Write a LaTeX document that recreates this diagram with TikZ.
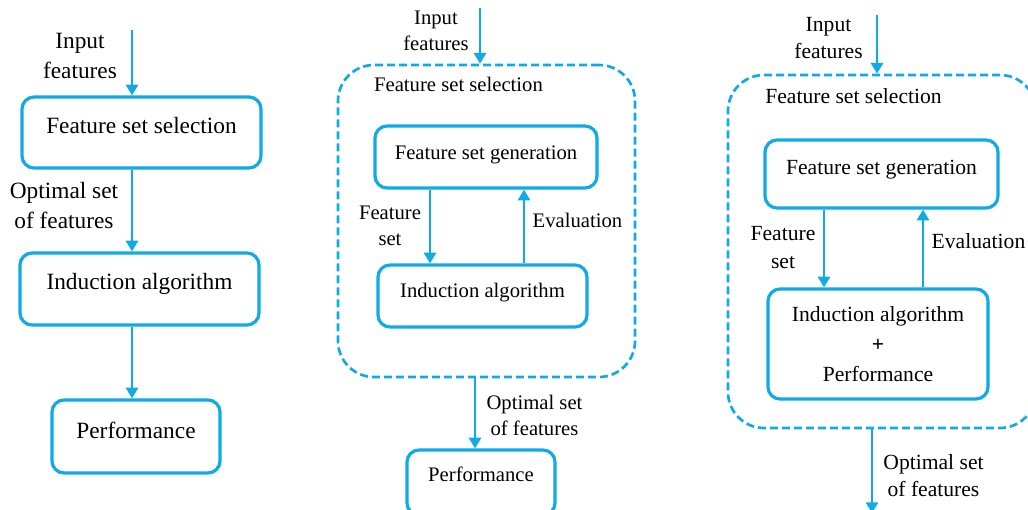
\documentclass[tikz,border=0pt]{standalone}
\usepackage{fontspec}
\setmainfont{Liberation Serif}
\usetikzlibrary{arrows.meta}
\definecolor{flowblue}{RGB}{16,170,230}

\begin{document}
\begin{tikzpicture}[x=0.75pt,y=-0.75pt,
  wh/.style 2 args={minimum width=#1*0.75pt, minimum height=#2*0.75pt},
  box/.style={draw=flowblue, line width=2.4pt, rounded corners=9pt, inner sep=0pt, align=center},
  group/.style={draw=flowblue, line width=2pt, dash pattern=on 6pt off 3pt, rounded corners=27pt, inner sep=0pt},
  flow/.style={draw=flowblue, line width=2pt, -{Triangle[length=8pt,width=9pt]}},
  lab/.style={inner sep=0pt, align=center},
  fA/.style={font=\fontsize{17.5}{22.5}\selectfont},
  fB/.style={font=\fontsize{15.5}{19.5}\selectfont},
  fC/.style={font=\fontsize{16.2}{20.3}\selectfont},
]
\useasboundingbox (0,0) rectangle (1028,510);
\clip (0,0) rectangle (1028,510);

% ---------- left: filter approach ----------
\coordinate (in1) at (132,30);
\node[lab,fA] (inlab1) at (80,56) {Input\\features};
\node[box,fA,wh={239}{71},text height=12.25pt,text depth=11.2pt] (sel1) at (141.5,132.5) {Feature set selection};
\node[box,fA,wh={239}{72},text height=12.25pt,text depth=12pt] (ind1) at (139.5,289) {Induction algorithm};
\node[box,fA,wh={168}{73},text height=12.25pt,text depth=10pt] (perf1) at (136,436.5) {Performance};
\node[lab,fA] (optlab1) at (64,206) {Optimal set\\of features};
\draw[flow] (in1) -- (in1 |- sel1.north);
\draw[flow] (sel1.south -| in1) -- (ind1.north -| in1);
\draw[flow] (ind1.south -| in1) -- (perf1.north -| in1);

% ---------- middle: wrapper approach ----------
\coordinate (in2) at (480,8);
\coordinate (fs2) at (430,0);
\coordinate (ev2) at (524,0);
\coordinate (out2) at (475,0);
\node[lab,fB] (inlab2) at (436,31) {Input\\features};
\node[group,wh={297}{312}] (sel2) at (486.5,221) {};
\node[lab,fB] (sellab2) at (458.5,84) {Feature set selection};
\node[box,fB,wh={222}{62},text height=10.85pt,text depth=7.5pt] (gen2) at (486,157) {Feature set generation};
\node[box,fB,wh={209}{62},text height=10.85pt,text depth=9pt] (ind2) at (482.5,296) {Induction algorithm};
\node[box,fB,wh={148}{65},text height=10.85pt,text depth=12.8pt] (perf2) at (481,482.5) {Performance};
\node[lab,fB] (fslab2) at (390,226) {Feature\\set};
\node[lab,fB] (evlab2) at (577.5,220) {Evaluation};
\node[lab,fB] (optlab2) at (534.5,415) {Optimal set\\of features};
\draw[flow] (in2) -- (in2 |- sel2.north);
\draw[flow] (gen2.south -| fs2) -- (ind2.north -| fs2);
\draw[flow] (ind2.north -| ev2) -- (gen2.south -| ev2);
\draw[flow] (sel2.south -| out2) -- (perf2.north -| out2);

% ---------- right: embedded approach ----------
\coordinate (in3) at (877,15);
\coordinate (fs3) at (824,0);
\coordinate (ev3) at (923,0);
\coordinate (end3) at (872,513);
\node[lab,fC] (inlab3) at (828.5,38.5) {Input\\features};
\node[group,wh={308}{353}] (sel3) at (882,251.5) {};
\node[lab,fC] (sellab3) at (853.5,96) {Feature set selection};
\node[box,fC,wh={233}{68},text height=11.3pt,text depth=10.5pt] (gen3) at (881.5,174) {Feature set generation};
\node[box,wh={220}{110},font=\fontsize{16.2}{22.5}\selectfont] (ind3) at (878,344) {Induction algorithm\\\textbf{+}\\Performance};
\node[lab,fC] (fslab3) at (783,247.5) {Feature\\set};
\node[lab,fC] (evlab3) at (978.5,241) {Evaluation};
\node[lab,fC] (optlab3) at (933.5,475.5) {Optimal set\\of features};
\draw[flow] (in3) -- (in3 |- sel3.north);
\draw[flow] (gen3.south -| fs3) -- (ind3.north -| fs3);
\draw[flow] (ind3.north -| ev3) -- (gen3.south -| ev3);
\draw[flow] (sel3.south -| end3) -- (end3);
\end{tikzpicture}
\end{document}
